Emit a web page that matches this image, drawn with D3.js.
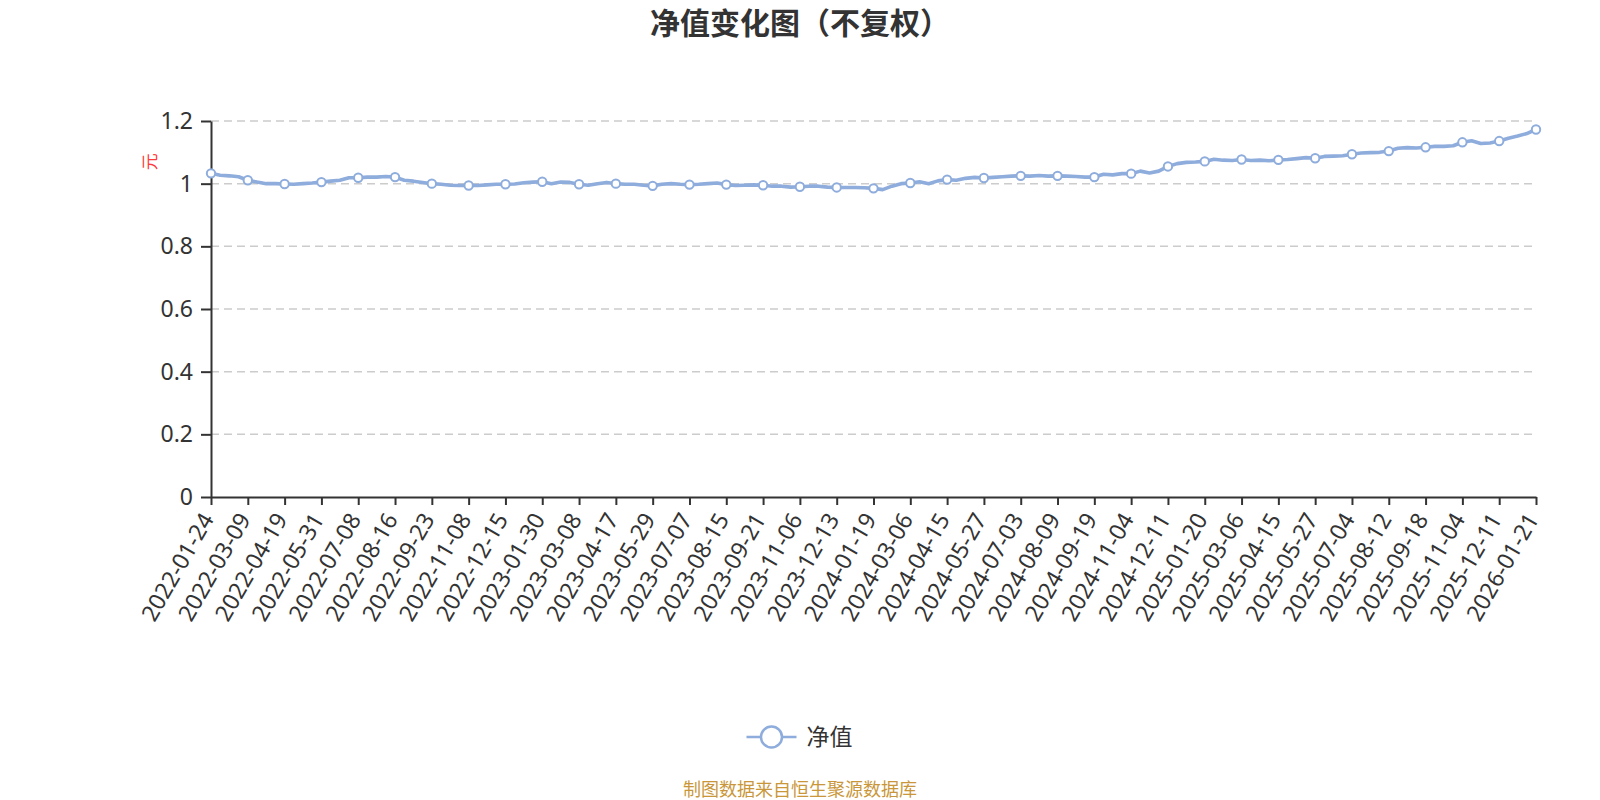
<!DOCTYPE html>
<html><head><meta charset="utf-8">
<script src="https://cdn.jsdelivr.net/npm/d3@7"></script>
<style>
body{margin:0;background:#fff;}
svg{display:block;font-family:"Noto Sans","Noto Sans CJK SC",sans-serif;}
</style>
</head><body>
<svg id="chart" width="1600" height="800"></svg>
<script>
// ---------- data ----------
const titleText = "净值变化图（不复权）";
const seriesName = "净值";
const yAxisName = "元";
const sourceText = "制图数据来自恒生聚源数据库";

const tickLabels = [
  "2022-01-24","2022-03-09","2022-04-19","2022-05-31","2022-07-08","2022-08-16",
  "2022-09-23","2022-11-08","2022-12-15","2023-01-30","2023-03-08","2023-04-17",
  "2023-05-29","2023-07-07","2023-08-15","2023-09-21","2023-11-06","2023-12-13",
  "2024-01-19","2024-03-06","2024-04-15","2024-05-27","2024-07-03","2024-08-09",
  "2024-09-19","2024-11-04","2024-12-11","2025-01-20","2025-03-06","2025-04-15",
  "2025-05-27","2025-07-04","2025-08-12","2025-09-18","2025-11-04","2025-12-11",
  "2026-01-21"
];
const yTickValues = [0, 0.2, 0.4, 0.6, 0.8, 1, 1.2];
const yTickLabels = ["0", "0.2", "0.4", "0.6", "0.8", "1", "1.2"];

// sampled values: 4 samples per labelled interval (first of each group sits on a label)
const pointsPerLabel = 4;
const values = [
  1.033, 1.027, 1.025, 1.022,
  1.011, 1.005, 1.000, 1.000,
  0.999, 0.998, 1.000, 1.002,
  1.005, 1.008, 1.011, 1.019,
  1.019, 1.021, 1.021, 1.023,
  1.021, 1.011, 1.008, 1.004,
  1.000, 0.998, 0.995, 0.994,
  0.994, 0.994, 0.996, 0.998,
  0.998, 0.999, 1.003, 1.005,
  1.006, 1.000, 1.005, 1.004,
  0.998, 0.995, 1.000, 1.004,
  1.000, 0.998, 0.998, 0.995,
  0.993, 0.998, 1.000, 0.998,
  0.997, 0.998, 1.000, 1.002,
  0.997, 0.994, 0.995, 0.996,
  0.995, 0.992, 0.992, 0.989,
  0.990, 0.992, 0.992, 0.989,
  0.988, 0.988, 0.988, 0.987,
  0.985, 0.981, 0.992, 1.000,
  1.002, 1.006, 1.000, 1.009,
  1.013, 1.011, 1.017, 1.020,
  1.018, 1.020, 1.022, 1.024,
  1.025, 1.024, 1.026, 1.024,
  1.025, 1.024, 1.023, 1.021,
  1.021, 1.030, 1.028, 1.032,
  1.032, 1.040, 1.034, 1.040,
  1.055, 1.064, 1.068, 1.069,
  1.071, 1.078, 1.075, 1.074,
  1.077, 1.074, 1.075, 1.073,
  1.076, 1.077, 1.080, 1.083,
  1.081, 1.087, 1.088, 1.089,
  1.094, 1.098, 1.099, 1.100,
  1.104, 1.113, 1.115, 1.114,
  1.116, 1.119, 1.119, 1.121,
  1.132, 1.137, 1.128, 1.130,
  1.136, 1.145, 1.152, 1.160,
  1.173
];

// ---------- layout ----------
const lineColor = "#8eacdc";
const axisColor = "#333";
const plot = {left: 211, right: 1536, top: 121, bottom: 497};

const svg = d3.select("#chart");

const x = d3.scaleLinear().domain([0, values.length - 1]).range([plot.left, plot.right]);
const y = d3.scaleLinear().domain([0, 1.2]).range([plot.bottom, plot.top]);

// grid lines
svg.append("g").selectAll("line")
  .data(yTickValues.filter(v => v !== 0))
  .join("line")
  .attr("x1", plot.left).attr("x2", plot.right)
  .attr("y1", d => y(d)).attr("y2", d => y(d))
  .attr("stroke", "#cccccc").attr("stroke-width", 1.5)
  .attr("stroke-dasharray", "8,5");

// y axis
const yAxis = svg.append("g")
  .attr("transform", `translate(${plot.left},0)`)
  .call(d3.axisLeft(y).tickValues(yTickValues).tickSize(10).tickSizeOuter(0).tickPadding(8)
    .tickFormat(d => yTickLabels[yTickValues.indexOf(d)]));
yAxis.select(".domain").attr("stroke", axisColor).attr("stroke-width", 2);
yAxis.selectAll(".tick line").attr("stroke", axisColor).attr("stroke-width", 2);
yAxis.selectAll(".tick text").attr("fill", "#333").style("font-size", "23px")
  .style("font-family", '"Noto Sans", sans-serif');

// x axis
const labelIdx = d3.range(0, values.length, pointsPerLabel);
const xAxis = svg.append("g")
  .attr("transform", `translate(0,${plot.bottom})`)
  .call(d3.axisBottom(x).tickValues(labelIdx).tickSize(8).tickSizeOuter(0)
    .tickFormat(d => tickLabels[d / pointsPerLabel]));
xAxis.select(".domain").attr("stroke", axisColor).attr("stroke-width", 2);
xAxis.selectAll(".tick line").attr("stroke", axisColor).attr("stroke-width", 2);
xAxis.selectAll(".tick text")
  .attr("x", 0).attr("y", 0).attr("dy", "0.35em")
  .attr("text-anchor", "end")
  .attr("transform", "translate(-4,18) rotate(-60)")
  .attr("fill", "#333").style("font-size", "23px")
  .style("font-family", '"Noto Sans", sans-serif');

// y axis name
svg.append("text")
  .attr("transform", `translate(150,${y(1.07)}) rotate(-90)`)
  .attr("text-anchor", "middle").attr("dy", "0.35em")
  .attr("fill", "#ff3b3b").style("font-size", "17px")
  .style("font-family", '"Noto Sans CJK SC", sans-serif')
  .text(yAxisName);

// line
svg.append("path")
  .datum(values)
  .attr("fill", "none").attr("stroke", lineColor).attr("stroke-width", 3.6)
  .attr("stroke-linejoin", "round").attr("stroke-linecap", "round")
  .attr("d", d3.line().x((d, i) => x(i)).y(d => y(d)));

// markers at labelled points
svg.append("g").selectAll("circle")
  .data(labelIdx)
  .join("circle")
  .attr("cx", i => x(i)).attr("cy", i => y(values[i]))
  .attr("r", 4.2).attr("fill", "#fff")
  .attr("stroke", lineColor).attr("stroke-width", 2);

// title
svg.append("text")
  .attr("x", 800).attr("y", 23).attr("dy", "0.35em")
  .attr("text-anchor", "middle")
  .attr("fill", "#333").style("font-size", "30px").style("font-weight", "bold")
  .style("font-family", '"Noto Sans CJK SC", sans-serif')
  .text(titleText);

// legend
const lg = svg.append("g").attr("transform", "translate(771.5,737)");
lg.append("line").attr("x1", -25).attr("x2", 25).attr("y1", 0).attr("y2", 0)
  .attr("stroke", lineColor).attr("stroke-width", 2.5);
lg.append("circle").attr("r", 10.5).attr("fill", "#fff")
  .attr("stroke", lineColor).attr("stroke-width", 2.5);
lg.append("text").attr("x", 35).attr("y", 0).attr("dy", "0.35em")
  .attr("fill", "#333").style("font-size", "23px")
  .style("font-family", '"Noto Sans CJK SC", sans-serif')
  .text(seriesName);

// source
svg.append("text")
  .attr("x", 800).attr("y", 790).attr("dy", "0.35em")
  .attr("text-anchor", "middle")
  .attr("fill", "#c9973a").style("font-size", "18px")
  .style("font-family", '"Noto Sans CJK SC", sans-serif')
  .text(sourceText);
</script>
</body></html>
